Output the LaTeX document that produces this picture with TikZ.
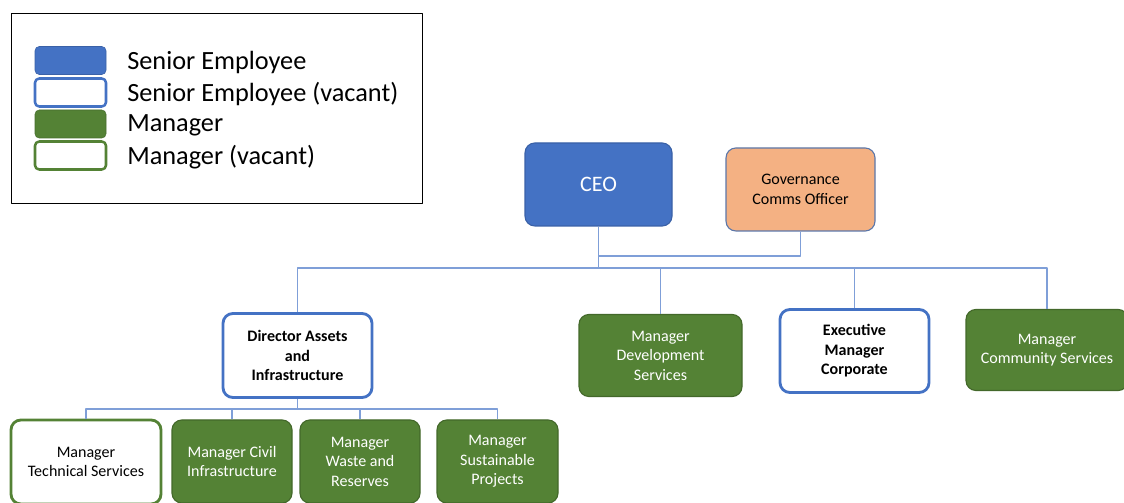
\documentclass[tikz,border=0pt]{standalone}
\usepackage{fontspec}
\setmainfont{Carlito}
\definecolor{seniorblue}{HTML}{4472C4}
\definecolor{mgrgreen}{HTML}{548235}
\definecolor{govorange}{HTML}{F4B183}
\definecolor{linkblue}{HTML}{7F9FD8}
\begin{document}
\begin{tikzpicture}[x=0.025cm,y=-0.025cm,line join=round,
    box/.style={rounded corners=7pt,align=center,inner sep=2pt,
      font=\fontsize{11.4}{13.9}\selectfont},
    senior/.style={box,fill=seniorblue,draw=seniorblue!85!black,line width=0.8pt,text=white},
    seniorvac/.style={box,fill=white,draw=seniorblue,line width=2pt,
      font=\fontsize{11.4}{13.9}\selectfont\bfseries},
    mgr/.style={box,fill=mgrgreen,draw=mgrgreen!80!black,line width=0.8pt,text=white},
    mgrvac/.style={box,fill=white,draw=mgrgreen,line width=2pt},
    gov/.style={box,fill=govorange,draw=seniorblue!60!gray,line width=0.8pt},
    swatch/.style={rounded corners=3pt,minimum width=71*0.025cm,minimum height=28*0.025cm,inner sep=0pt},
    legtext/.style={anchor=west,inner sep=0pt,font=\fontsize{18.7}{22.8}\selectfont},
    link/.style={draw=linkblue,line width=1pt}]
  \useasboundingbox (0,0) rectangle (1124,503);

  % legend
  \node[draw=black,line width=0.6pt,minimum width=411*0.025cm,minimum height=190*0.025cm] (legend) at (216.5,108) {};
  \node[swatch,fill=seniorblue,draw=seniorblue!85!black] (swsenior) at (70.5,60.5) {};
  \node[swatch,fill=white,draw=seniorblue,line width=1.8pt] (swseniorvac) at (70.5,92.5) {};
  \node[swatch,fill=mgrgreen,draw=mgrgreen!85!black] (swmgr) at (70.5,124) {};
  \node[swatch,fill=white,draw=mgrgreen,line width=1.8pt] (swmgrvac) at (70.5,155.5) {};
  \node[legtext] (lsenior) at (127,62) {Senior Employee};
  \node[legtext] (lseniorvac) at (127,94) {Senior Employee (vacant)};
  \node[legtext] (lmgr) at (127,125.5) {Manager};
  \node[legtext] (lmgrvac) at (127,157) {Manager (vacant)};

  % top level
  \node[senior,minimum width=147*0.025cm,minimum height=83*0.025cm,
    font=\fontsize{15.7}{19}\selectfont] (ceo) at (598.5,184.5) {CEO};
  \node[gov,minimum width=149*0.025cm,minimum height=83*0.025cm] (govcomms) at (800.5,189.5) {Governance\\Comms Officer};

  % second level
  \node[seniorvac,minimum width=149*0.025cm,minimum height=84*0.025cm] (dirassets) at (297.5,355.5) {Director Assets\\and\\Infrastructure};
  \node[mgr,minimum width=163*0.025cm,minimum height=82*0.025cm] (mgrdev) at (660.5,355.5) {Manager\\Development\\Services};
  \node[seniorvac,minimum width=149*0.025cm,minimum height=83*0.025cm] (execcorp) at (854.5,351) {Executive\\Manager\\Corporate};
  \node[mgr,minimum width=162*0.025cm,minimum height=81*0.025cm] (mgrcomm) at (1047,350) {Manager\\Community Services};

  % third level
  \node[mgrvac,minimum width=150*0.025cm,minimum height=84*0.025cm] (mgrtech) at (86,462) {Manager\\Technical Services};
  \node[mgr,minimum width=120*0.025cm,minimum height=83*0.025cm] (mgrcivil) at (232,461.5) {Manager Civil\\Infrastructure};
  \node[mgr,minimum width=120*0.025cm,minimum height=83*0.025cm] (mgrwaste) at (360,461.5) {Manager\\Waste and\\Reserves};
  \node[mgr,minimum width=121*0.025cm,minimum height=83*0.025cm] (mgrsust) at (497.5,461.5) {Manager\\Sustainable\\Projects};

  % connectors
  \coordinate (ceobus) at (598.5,268);
  \coordinate (govjoin) at (598.5,256);
  \coordinate (dirbus) at (297.5,409);
  \draw[link] (ceo.south) -- (ceobus);
  \draw[link] (govcomms.south) |- (govjoin);
  \draw[link] (ceobus) -| (dirassets.north);
  \draw[link] (ceobus) -| (mgrdev.north);
  \draw[link] (ceobus) -| (execcorp.north);
  \draw[link] (ceobus) -| (mgrcomm.north);
  \draw[link] (dirassets.south) -- (dirbus);
  \draw[link] (dirbus) -| (mgrtech.north);
  \draw[link] (dirbus) -| (mgrcivil.north);
  \draw[link] (dirbus) -| (mgrwaste.north);
  \draw[link] (dirbus) -| (mgrsust.north);
\end{tikzpicture}
\end{document}
